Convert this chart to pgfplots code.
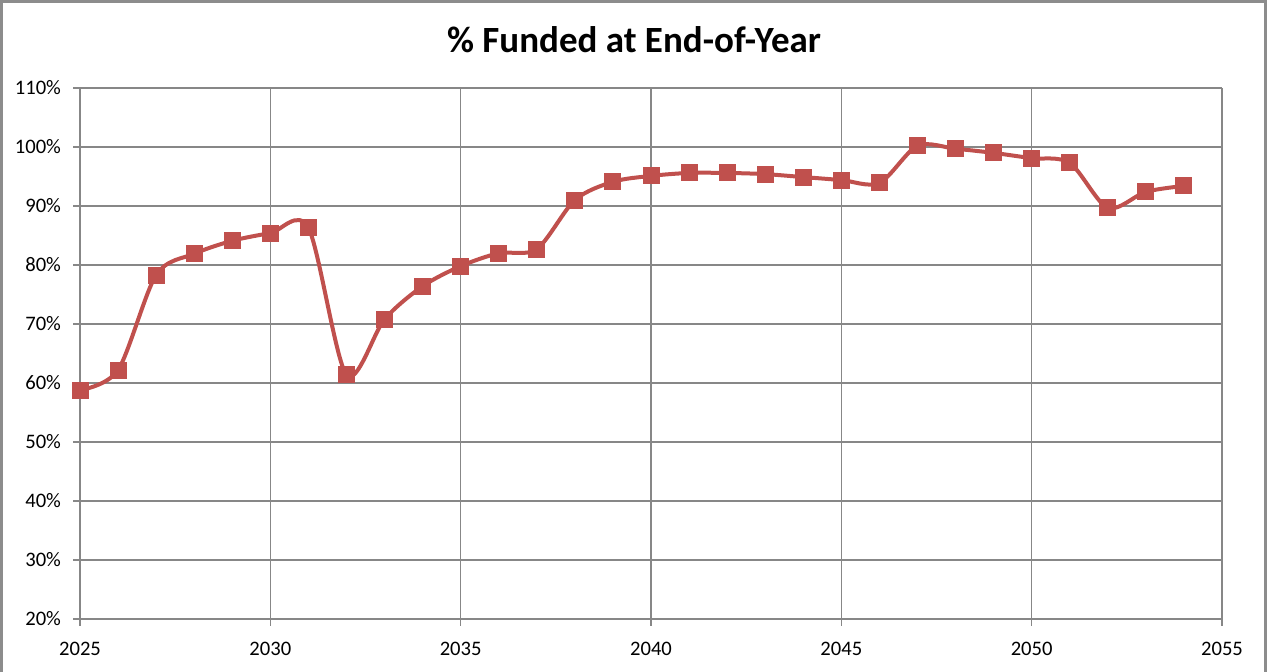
\documentclass[border=0pt]{standalone}
\usepackage{pgfplots}
\pgfplotsset{compat=1.18}
\usepackage{fontspec}
\setmainfont{Carlito}
\definecolor{ser}{HTML}{C0504D}
\definecolor{gridc}{HTML}{878787}
\definecolor{framec}{HTML}{8C8C8C}
\begin{document}
\begin{tikzpicture}[x=0.5pt,y=0.5pt]
\useasboundingbox (0,0) rectangle (1268,672);
\draw[framec, line width=1.5pt] (1.5,-2) -- (1.5,670.5) -- (1265,670.5) -- (1265,-2);
\node[font=\fontsize{18.5pt}{22pt}\selectfont\bfseries] at (634,632) {\% Funded at End-of-Year};
\begin{axis}[
  at={(40pt,26.5pt)}, anchor=south west,
  scale only axis, width=571pt, height=265.5pt,
  xmin=2025, xmax=2055, ymin=20, ymax=110,
  xtick={2025,2030,...,2055}, ytick={20,30,...,110},
  grid=major, grid style={gridc, line width=0.75pt},
  axis line style={gridc, line width=0.75pt},
  axis x line*=bottom, axis y line*=left,
  tick style={gridc, line width=0.75pt},
  tick align=outside, major tick length=3.5pt,
  /pgf/number format/assume math mode=true,
  /pgf/number format/1000 sep={},
  ticklabel style={font=\fontsize{10.3pt}{12pt}\selectfont},
  yticklabel={\pgfmathprintnumber{\tick}\%},
  xticklabel style={yshift=-4.5pt},
  yticklabel style={xshift=-2.5pt},
  clip=false,
]
\addplot[ser, line width=2pt, smooth, tension=0.5, mark=square*, mark size=4pt, mark options={fill=ser, draw=ser, line width=0.5pt}] coordinates {
(2025,58.8) (2026,62.2) (2027,78.3) (2028,81.9) (2029,84.1) (2030,85.4)
(2031,86.3) (2032,61.4) (2033,70.8) (2034,76.4) (2035,79.8) (2036,82.0)
(2037,82.7) (2038,91.0) (2039,94.1) (2040,95.1) (2041,95.6) (2042,95.6)
(2043,95.4) (2044,94.9) (2045,94.4) (2046,93.9) (2047,100.2) (2048,99.7)
(2049,99.0) (2050,98.1) (2051,97.3) (2052,89.7) (2053,92.4) (2054,93.4)
};
\end{axis}
\end{tikzpicture}
\end{document}
